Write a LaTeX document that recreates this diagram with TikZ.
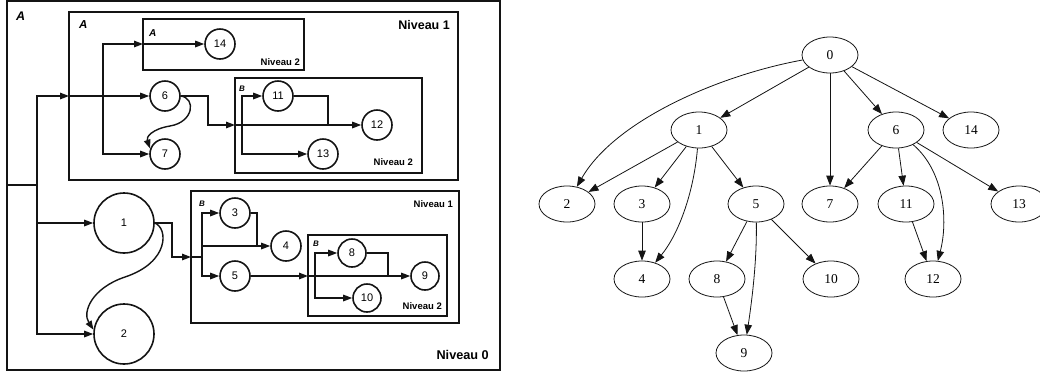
\documentclass[tikz,border=0pt]{standalone}
\usepackage{fontspec}
\setmainfont{Liberation Serif}
\setsansfont{Liberation Sans}
\usetikzlibrary{arrows.meta,shapes.geometric}
\definecolor{NVink}{RGB}{20,20,20}
\tikzset{
  task/.style={circle,draw=NVink,line width=1.6pt,fill=white,minimum size=30pt,
               inner sep=0pt,font=\sffamily\fontsize{11}{11}\selectfont},
  bigtask/.style={task,minimum size=60pt},
  grp/.style={draw=NVink,line width=1.9pt},
  lvl/.style={font=\sffamily\bfseries\fontsize{9.5}{10}\selectfont,inner sep=0pt,anchor=base east},
  tag/.style={font=\sffamily\bfseries\itshape\fontsize{8}{8}\selectfont,inner sep=0pt,anchor=base west},
  flow/.style={-{Triangle[length=9pt,width=6.5pt]},line width=1.4pt,draw=NVink},
  wire/.style={line width=1.4pt,draw=NVink},
  tnode/.style={ellipse,draw=NVink,line width=0.8pt,minimum width=56pt,minimum height=36pt,
                inner sep=0pt,font=\fontsize{13.5}{13.5}\selectfont},
  treearc/.style={-{Triangle[length=10pt,width=7.5pt]},line width=0.8pt,draw=NVink}
}

\begin{document}
\begin{tikzpicture}[x=1pt,y=-1pt]
  \useasboundingbox (0,0) rectangle (1040,376);
  % Niveau 0 frame and groups
  \draw[grp] (7,1) rectangle (500,370);
  \draw[grp] (69,12) rectangle (458,180);
  \draw[grp] (143,19) rectangle (304,70);
  \draw[grp] (235,78) rectangle (422,173);
  \draw[grp] (191,191) rectangle (459,323);
  \draw[grp] (308,235) rectangle (447,316);
  \node[tag,font=\sffamily\bfseries\itshape\fontsize{12.5}{12.5}\selectfont] (tA0) at (16,20) {A};
  \node[tag,font=\sffamily\bfseries\itshape\fontsize{11.5}{11.5}\selectfont] (tA1) at (79,28) {A};
  \node[tag,font=\sffamily\bfseries\itshape\fontsize{10}{10}\selectfont] (tA2) at (149,36) {A};
  \node[tag] (tB1) at (239,91) {B};
  \node[tag] (tB2) at (199,206) {B};
  \node[tag] (tB3) at (313,246) {B};
  \node[lvl,font=\sffamily\bfseries\fontsize{12.7}{13}\selectfont] (lv0) at (489,359) {Niveau 0};
  \node[lvl,font=\sffamily\bfseries\fontsize{12.5}{13}\selectfont] (lv1a) at (450,29) {Niveau 1};
  \node[lvl] (lv1b) at (453,207) {Niveau 1};
  \node[lvl] (lv2a) at (300,65) {Niveau 2};
  \node[lvl] (lv2b) at (413,165) {Niveau 2};
  \node[lvl] (lv2c) at (442,309) {Niveau 2};

  % tasks
  \node[task] (n14) at (220,44) {14};
  \node[task] (n6) at (165,96) {6};
  \node[task] (n7) at (165,154) {7};
  \node[task] (n11) at (278,96) {11};
  \node[task] (n12) at (377,125) {12};
  \node[task] (n13) at (323,154) {13};
  \node[bigtask] (n1) at (124,223) {1};
  \node[bigtask] (n2) at (124,334) {2};
  \node[task] (n3) at (235,213) {3};
  \node[task] (n4) at (286,246) {4};
  \node[task] (n5) at (235,276) {5};
  \node[task,minimum size=28pt] (n8) at (352,253) {8};
  \node[task,minimum size=28pt] (n9) at (425,276) {9};
  \node[task,minimum size=28pt] (n10) at (367,298) {10};

  % junctions
  \coordinate (inA) at (7,185);
  \coordinate (spine) at (37,185);
  \coordinate (boxAin) at (69,96);
  \coordinate (jA) at (103,96);
  \coordinate (boxA2in) at (143,44);
  \coordinate (kB) at (208,125);
  \coordinate (boxBin) at (235,125);
  \coordinate (jB) at (242,125);
  \coordinate (kC) at (328,125);
  \coordinate (kD) at (172,257);
  \coordinate (boxCin) at (191,257);
  \coordinate (jC) at (202,257);
  \coordinate (jC4) at (202,246);
  \coordinate (kE) at (257,246);
  \coordinate (boxDin) at (308,276);
  \coordinate (jD) at (315,276);
  \coordinate (kF) at (388,276);

  \draw[wire] (inA) -- (spine);
  \draw[flow] (spine) |- (boxAin);
  \draw[flow] (boxAin) -- (n6);
  \draw[flow] (spine) |- (n1);
  \draw[flow] (spine) |- (n2);
  \draw[flow] (jA) |- (boxA2in);
  \draw[flow] (boxA2in) -- (n14);
  \draw[flow] (jA) |- (n7);
  \draw[flow] (n6.east) .. controls (196,98) and (194,122) .. (170,126)
              .. controls (152,129) and (146,137) .. (n7.160);
  \draw[flow] (n6) -| (kB) -- (boxBin);
  \draw[flow] (boxBin) -- (n12);
  \draw[flow] (jB) |- (n11);
  \draw[flow] (jB) |- (n13);
  \draw[wire] (n11) -| (kC);
  \draw[flow] (n1) -| (kD) -- (boxCin);
  \draw[wire] (boxCin) -- (jC);
  \draw[flow] (jC) |- (n3);
  \draw[flow] (jC) |- (n5);
  \draw[flow] (jC4) -- (n4);
  \draw[wire] (n3) -| (kE);
  \draw[flow] (n1.east) .. controls (168,228) and (170,262) .. (125,277)
              .. controls (92,288) and (82,312) .. (n2.172);
  \draw[flow] (n5) -- (boxDin);
  \draw[flow] (boxDin) -- (n9);
  \draw[flow] (jD) |- (n8);
  \draw[flow] (jD) |- (n10);
  \draw[wire] (n8) -| (kF);

  % dependency tree
  \node[tnode] (t0) at (830,55) {0};
  \node[tnode] (t1) at (699,130) {1};
  \node[tnode] (t6) at (896,130) {6};
  \node[tnode] (t14) at (971,130) {14};
  \node[tnode] (t2) at (567,204) {2};
  \node[tnode] (t3) at (642,204) {3};
  \node[tnode] (t5) at (756,204) {5};
  \node[tnode] (t7) at (830,204) {7};
  \node[tnode] (t11) at (906,204) {11};
  \node[tnode] (t13) at (1019,204) {13};
  \node[tnode] (t4) at (642,279) {4};
  \node[tnode] (t8) at (717,279) {8};
  \node[tnode] (t10) at (831,279) {10};
  \node[tnode] (t12) at (933,279) {12};
  \node[tnode] (t9) at (744,353) {9};

  \draw[treearc] (t0) -- (t1);
  \draw[treearc] (t0) .. controls (720,75) and (615,120) .. (t2);
  \draw[treearc] (t0) -- (t7);
  \draw[treearc] (t0) -- (t6);
  \draw[treearc] (t0) -- (t14);
  \draw[treearc] (t1) -- (t2);
  \draw[treearc] (t1) -- (t3);
  \draw[treearc] (t1) .. controls (694,190) and (680,232) .. (t4);
  \draw[treearc] (t1) -- (t5);
  \draw[treearc] (t3) -- (t4);
  \draw[treearc] (t5) -- (t8);
  \draw[treearc] (t5) .. controls (757,260) and (752,300) .. (t9);
  \draw[treearc] (t5) -- (t10);
  \draw[treearc] (t8) -- (t9);
  \draw[treearc] (t6) -- (t7);
  \draw[treearc] (t6) -- (t11);
  \draw[treearc] (t6) .. controls (945,172) and (948,222) .. (t12);
  \draw[treearc] (t6) -- (t13);
  \draw[treearc] (t11) -- (t12);
\end{tikzpicture}
\end{document}
